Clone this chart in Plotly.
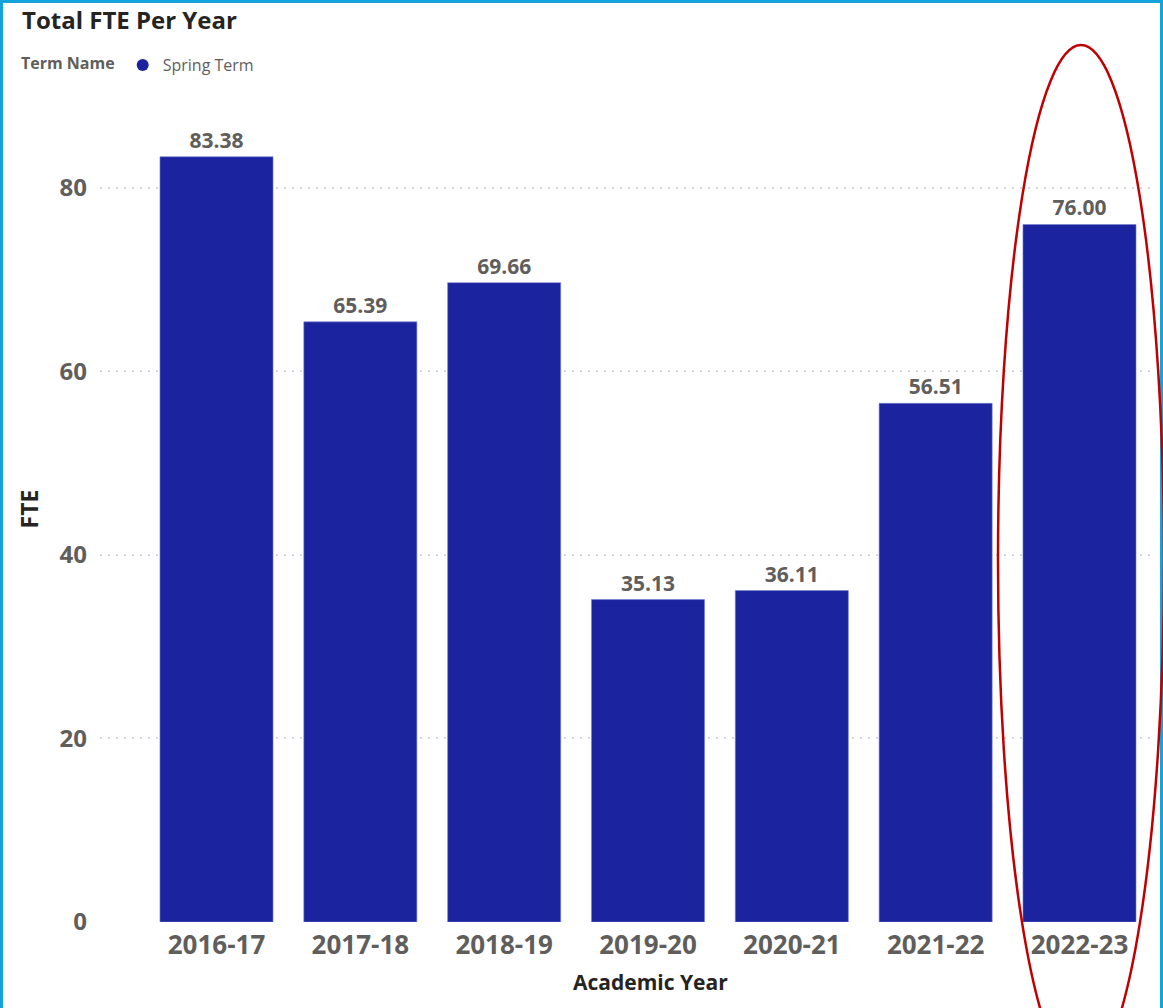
import plotly.graph_objects as go

years = ["2016-17", "2017-18", "2018-19", "2019-20", "2020-21", "2021-22", "2022-23"]
fte = [83.38, 65.39, 69.66, 35.13, 36.11, 56.51, 76.00]
series_name = "Spring Term"
legend_title = "Term Name"
y_ticks = [0, 20, 40, 60, 80]

FONT = "Segoe UI, Open Sans, sans-serif"
BAR = "#1B239F"
GRAY = "#605E5C"
DARK = "#252423"

W, H = 1163, 1008
L, R, T, B = 100, 8, 96, 86
pw, ph = W - L - R, H - T - B

def px_x(p):
    return (p - L) / pw

def px_y(p):
    return (H - B - p) / ph

fig = go.Figure()
fig.add_trace(go.Bar(
    x=years, y=fte, width=0.786,
    marker=dict(color=BAR, line=dict(color="rgba(120,128,210,0.6)", width=1)),
    texttemplate="%{y:.2f}", textposition="outside",
    textfont=dict(family=FONT, size=21, color=GRAY, weight="bold"),
    cliponaxis=False, showlegend=False, hoverinfo="x+y",
))
fig.add_trace(go.Scatter(
    x=[None], y=[None], mode="markers", name=series_name,
    marker=dict(symbol="circle", color=BAR, size=12), showlegend=True,
))

fig.update_layout(
    width=W, height=H,
    margin=dict(l=L, r=R, t=T, b=B),
    paper_bgcolor="white", plot_bgcolor="white",
    font=dict(family=FONT, color=GRAY),
    title=dict(text="Total FTE Per Year", x=22 / W, xanchor="left",
               xref="container", y=1 - 21 / H, yanchor="middle", yref="container",
               font=dict(family=FONT, size=24, color=DARK, weight="bold")),
    legend=dict(orientation="h", x=px_x(19), xanchor="left", y=px_y(65), yanchor="middle",
                title=dict(text=legend_title, font=dict(size=16, color=GRAY, weight="bold")),
                font=dict(size=16, color=GRAY), itemsizing="constant",
                itemwidth=30, tracegroupgap=0, bgcolor="rgba(0,0,0,0)", valign="middle"),
    bargap=0.21,
    xaxis=dict(range=[-0.81, 6.525], showgrid=False, showline=False, zeroline=False,
               tickfont=dict(family=FONT, size=26, color=GRAY, weight="bold"), ticks="",
               ticklabelstandoff=5, fixedrange=True),
    yaxis=dict(range=[0, 90], tickvals=y_ticks, showgrid=True, gridcolor="#D6D6D6",
               griddash="2px,6px", gridwidth=1.5, zeroline=False, showline=False,
               tickfont=dict(family=FONT, size=24, color=GRAY, weight="bold"), ticks="",
               ticklabelstandoff=12,
               title=dict(text="FTE", standoff=14,
                          font=dict(family=FONT, size=23, color=DARK, weight="bold"))),
    annotations=[dict(text="Academic Year", xref="paper", yref="paper",
                      x=px_x(650), y=px_y(982), xanchor="center", yanchor="middle",
                      showarrow=False, font=dict(family=FONT, size=21, color=DARK, weight="bold"))],
    shapes=[
        dict(type="rect", xref="paper", yref="paper",
             x0=px_x(1.5), x1=px_x(1161.5), y0=px_y(1015), y1=px_y(1.5),
             line=dict(color="#14A3DB", width=3), fillcolor="rgba(0,0,0,0)", layer="above"),
        dict(type="circle", xref="paper", yref="paper",
             x0=px_x(998), x1=px_x(1164), y0=px_y(1075), y1=px_y(45),
             line=dict(color="#C00000", width=2.5), fillcolor="rgba(0,0,0,0)", layer="above"),
    ],
)

fig.write_html("out.html")
